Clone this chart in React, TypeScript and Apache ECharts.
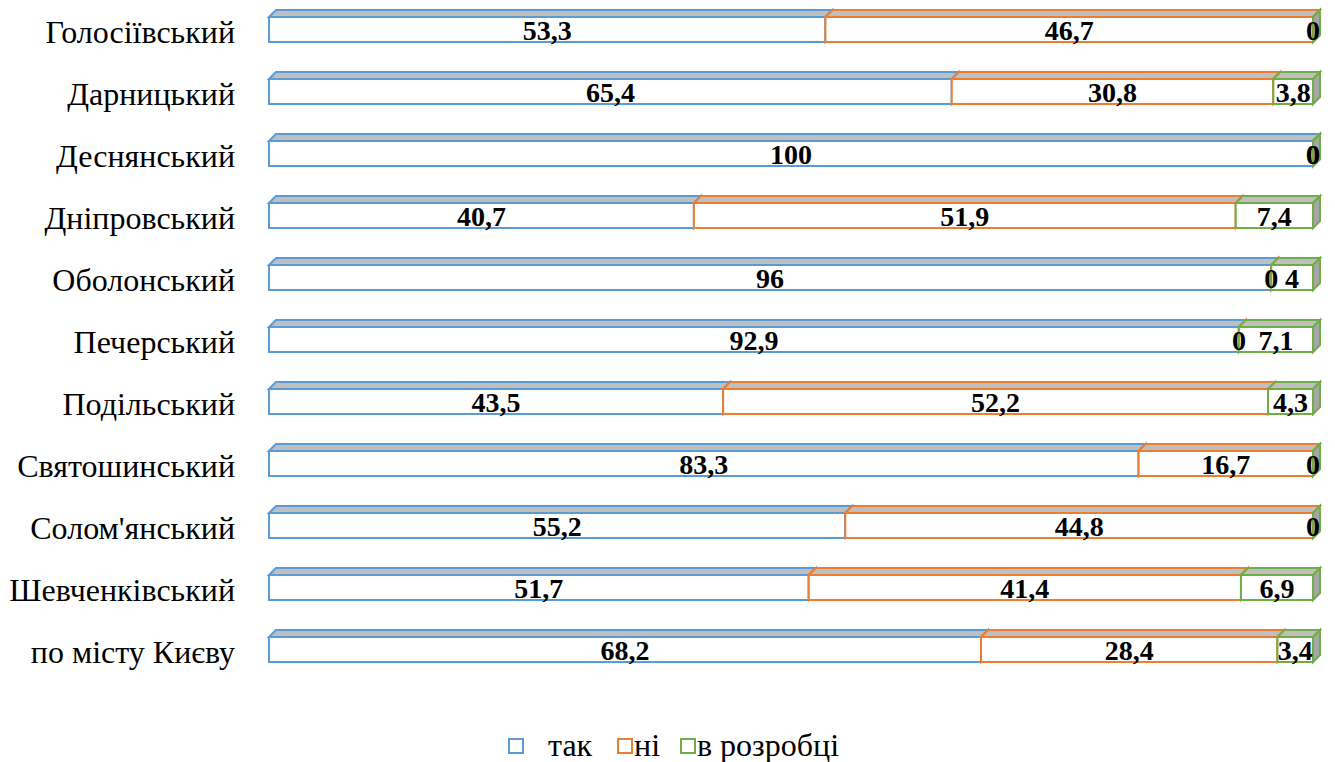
import React, { useEffect, useRef } from "react";
import * as echarts from "echarts";

const categories = [
  "Голосіївський",
  "Дарницький",
  "Деснянський",
  "Дніпровський",
  "Оболонський",
  "Печерський",
  "Подільський",
  "Святошинський",
  "Солом'янський",
  "Шевченківський",
  "по місту Києву",
];
const seriesNames = ["так", "ні", "в розробці"];
const yesValues = [53.3, 65.4, 100, 40.7, 96, 92.9, 43.5, 83.3, 55.2, 51.7, 68.2];
const noValues = [46.7, 30.8, 0, 51.9, 0, 0, 52.2, 16.7, 44.8, 41.4, 28.4];
const devValues = [0, 3.8, 0, 7.4, 4, 7.1, 4.3, 0, 0, 6.9, 3.4];
const colors = ["#5b9bd5", "#ed7d31", "#70ad47"];

const FONT = "'Liberation Serif', 'Times New Roman', serif";

export default function App() {
  const ref = useRef<HTMLDivElement>(null);
  useEffect(() => {
    document.body.style.margin = "0";
    const chart = echarts.init(ref.current!, null, { renderer: "svg" });
    const all = [yesValues, noValues, devValues];
    const DX = 7;
    const DY = 7;
    const series = all.map((vals, si) => {
      const data = vals.map((v, ci) => {
        let start = 0;
        for (let k = 0; k < si; k++) start += all[k][ci];
        return [ci, start, start + v, v];
      });
      const color = colors[si];
      return {
        type: "custom",
        name: seriesNames[si],
        itemStyle: { color: "#fff", borderColor: color, borderWidth: 2 },
        encode: { x: [1, 2], y: 0 },
        data,
        renderItem: (params: any, api: any) => {
          const cat = api.value(0);
          const s = api.value(1);
          const e = api.value(2);
          const v = api.value(3);
          const p0 = api.coord([s, cat]);
          const p1 = api.coord([e, cat]);
          const cy = p0[1];
          const x0 = p0[0];
          const x1 = p1[0];
          const top = cy - 15;
          const bot = cy + 10;
          const z = si * 10;
          return {
            type: "group",
            children: [
              {
                type: "rect",
                z2: z,
                shape: { x: x0, y: top, width: x1 - x0, height: bot - top },
                style: { fill: "#ffffff", stroke: color, lineWidth: 2 },
              },
              {
                type: "polygon",
                z2: z + 1,
                shape: {
                  points: [
                    [x0, top],
                    [x0 + DX, top - DY],
                    [x1 + DX, top - DY],
                    [x1, top],
                  ],
                },
                style: { fill: "#bfbfbf", stroke: color, lineWidth: 2 },
              },
              {
                type: "polygon",
                z2: z + 2,
                shape: {
                  points: [
                    [x1, top],
                    [x1 + DX, top - DY],
                    [x1 + DX, bot - DY],
                    [x1, bot],
                  ],
                },
                style: { fill: "#a6a6a6", stroke: color, lineWidth: 2 },
              },
              {
                type: "text",
                z2: 100,
                x: (x0 + x1) / 2,
                y: (top + bot) / 2 + 1,
                style: {
                  text: String(v).replace(".", ","),
                  fill: "#000",
                  font: `bold 28px ${FONT}`,
                  align: "center",
                  verticalAlign: "middle",
                },
              },
            ],
          };
        },
      };
    });
    const legendIconX = [508, 617, 680];
    const legendTextX = [548, 634, 697];
    const legendY = 745;
    const graphic: any[] = [];
    seriesNames.forEach((n, i) => {
      graphic.push({
        type: "rect",
        left: legendIconX[i],
        top: legendY - 7,
        shape: { x: 0, y: 0, width: 14, height: 14 },
        style: { fill: "#fff", stroke: colors[i], lineWidth: 2 },
      });
      graphic.push({
        type: "text",
        x: legendTextX[i],
        y: legendY,
        style: {
          text: n,
          fill: "#000",
          font: `32px ${FONT}`,
          align: "left",
          verticalAlign: "middle",
        },
      });
    });
    chart.setOption({
      animation: false,
      textStyle: { fontFamily: FONT },
      grid: { left: 269, right: 22, top: 1, bottom: 79, containLabel: false },
      xAxis: { type: "value", min: 0, max: 100, show: false },
      yAxis: {
        type: "category",
        data: categories,
        inverse: true,
        axisLine: { show: false },
        axisTick: { show: false },
        splitLine: { show: false },
        axisLabel: {
          color: "#000",
          fontSize: 32,
          fontFamily: FONT,
          margin: 34,
        },
      },
      graphic,
      series,
    });
    return () => chart.dispose();
  }, []);
  return <div ref={ref} style={{ width: 1335, height: 762 }} />;
}
